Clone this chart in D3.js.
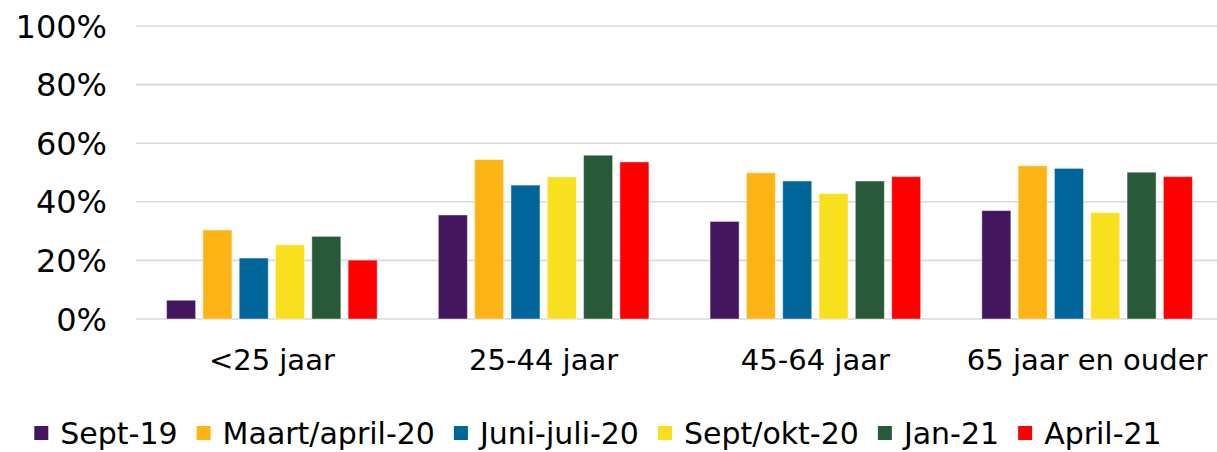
<!DOCTYPE html>
<html>
<head>
<meta charset="utf-8">
<script src="https://cdn.jsdelivr.net/npm/d3@7"></script>
<style>
  body { margin: 0; background: #fff; }
  text { font-family: "DejaVu Sans", Verdana, sans-serif; fill: #000; }
</style>
</head>
<body>
<div id="chart"></div>
<script>
// data
var categories = ["<25 jaar", "25-44 jaar", "45-64 jaar", "65 jaar en ouder"];
var seriesNames = ["Sept-19", "Maart/april-20", "Juni-juli-20", "Sept/okt-20", "Jan-21", "April-21"];
var seriesColors = ["#43165e", "#fdb515", "#006699", "#f8e01e", "#285a3a", "#ff0000"];
var values = [
  [6.4, 35.5, 33.3, 37.0],   // Sept-19
  [30.4, 54.4, 49.9, 52.3],  // Maart/april-20
  [20.8, 45.7, 47.1, 51.4],  // Juni-juli-20
  [25.3, 48.5, 42.8, 36.3],  // Sept/okt-20
  [28.2, 55.9, 47.1, 50.1],  // Jan-21
  [20.1, 53.6, 48.6, 48.6]   // April-21
];
var yTicks = [0, 20, 40, 60, 80, 100];

var width = 1217;
var height = 452;
// plot area (top is a window property, so not named that)
var plotLeft = 136, plotRight = 1223, plotTop = 26, plotBottom = 319;

var svg = d3.select("#chart")
  .append("svg")
  .attr("width", width)
  .attr("height", height);

var x0 = d3.scaleBand()
  .domain(categories)
  .range([plotLeft, plotRight])
  .paddingInner(0.225)
  .paddingOuter(0.1125);

var x1 = d3.scaleBand()
  .domain(seriesNames)
  .range([0, x0.bandwidth()])
  .paddingInner(0.2);

var y = d3.scaleLinear()
  .domain([0, 100])
  .range([plotBottom, plotTop]);

// gridlines
svg.append("g")
  .selectAll("line")
  .data(yTicks)
  .enter()
  .append("line")
    .attr("x1", plotLeft)
    .attr("x2", width)
    .attr("y1", function(d) { return y(d); })
    .attr("y2", function(d) { return y(d); })
    .style("stroke", "#d9d9d9")
    .style("stroke-width", 1.6);

// y axis labels
svg.append("g")
  .selectAll("text")
  .data(yTicks)
  .enter()
  .append("text")
    .attr("x", 107)
    .attr("y", function(d) { return y(d); })
    .attr("dy", "0.36em")
    .attr("text-anchor", "end")
    .style("font-size", "32px")
    .text(function(d) { return d + "%"; });

// bars, one group per category
var groups = svg.append("g")
  .selectAll("g")
  .data(categories)
  .enter()
  .append("g")
    .attr("transform", function(d) { return "translate(" + x0(d) + ",0)"; });

groups.selectAll("rect")
  .data(function(d, ci) {
    return seriesNames.map(function(s, si) {
      return { series: s, color: seriesColors[si], value: values[si][ci] };
    });
  })
  .enter()
  .append("rect")
    .attr("x", function(d) { return x1(d.series); })
    .attr("y", function(d) { return y(d.value); })
    .attr("width", x1.bandwidth())
    .attr("height", function(d) { return plotBottom - y(d.value); })
    .style("fill", function(d) { return d.color; })
    .style("stroke", "#ffffff")
    .style("stroke-opacity", 0.45)
    .style("stroke-width", 1);

// category labels
svg.append("g")
  .selectAll("text")
  .data(categories)
  .enter()
  .append("text")
    .attr("x", function(d) { return x0(d) + x0.bandwidth() / 2; })
    .attr("y", 370)
    .attr("text-anchor", "middle")
    .style("font-size", "29px")
    .text(function(d) { return d; });

// legend, laid out from measured text widths
var legend = svg.append("g");
var items = legend.selectAll("g")
  .data(seriesNames)
  .enter()
  .append("g");

items.append("rect")
  .attr("width", 14)
  .attr("height", 14)
  .attr("y", 426)
  .style("fill", function(d, i) { return seriesColors[i]; });

items.append("text")
  .attr("x", 26)
  .attr("y", 444)
  .style("font-size", "30px")
  .text(function(d) { return d; });

var pos = 0;
items.each(function() {
  var w = d3.select(this).select("text").node().getComputedTextLength();
  d3.select(this).attr("transform", "translate(" + pos + ",0)");
  pos += 26 + w + 19;
});
var total = pos - 19;
legend.attr("transform", "translate(" + (598 - total / 2) + ",0)");
</script>
</body>
</html>
